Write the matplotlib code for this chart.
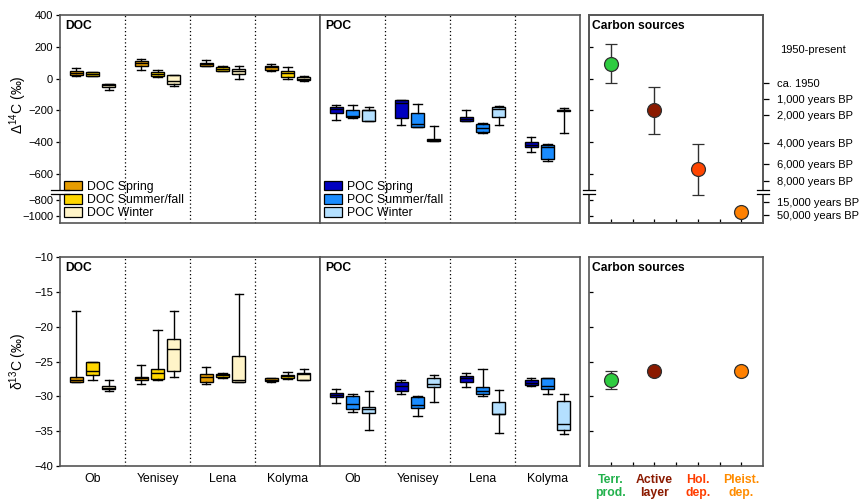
"""Radiocarbon and stable carbon isotopes of DOC/POC in four Arctic rivers."""

import matplotlib

matplotlib.use("Agg")
import matplotlib.pyplot as plt
import matplotlib.transforms as mtransforms
import numpy as np
from matplotlib.patches import Patch

plt.rcParams["font.family"] = ["Liberation Sans", "DejaVu Sans"]
plt.rcParams["mathtext.default"] = "regular"

rivers = ["Ob", "Yenisey", "Lena", "Kolyma"]
seasons = ["Spring", "Summer/fall", "Winter"]

# box stats per river: low whisker, q1, median, q3, high whisker
doc_d14c_spring = [[15, 25, 38, 50, 65], [55, 78, 97, 112, 125], [78, 80, 90, 100, 115], [45, 55, 70, 80, 92]]
doc_d14c_summer = [[17, 18, 30, 40, 42], [12, 14, 28, 44, 56], [45, 48, 62, 72, 80], [-5, 12, 35, 50, 70]]
doc_d14c_winter = [[-70, -52, -42, -35, -32], [-48, -32, -12, 20, 24], [0, 30, 50, 62, 80], [-15, -10, 0, 12, 18]]

poc_d14c_spring = [[-262, -217, -194, -180, -165], [-293, -250, -152, -137, -135],
                   [-268, -265, -252, -242, -200], [-460, -432, -415, -398, -367]]
poc_d14c_summer = [[-245, -240, -232, -200, -165], [-305, -303, -283, -214, -160],
                   [-340, -333, -310, -288, -278], [-518, -505, -430, -418, -412]]
poc_d14c_winter = [[-267, -265, -200, -195, -180], [-395, -393, -385, -377, -298],
                   [-290, -242, -190, -178, -175], [-340, -205, -200, -195, -185]]

doc_d13c_spring = [[-28.0, -27.9, -27.6, -27.2, -17.8], [-28.3, -27.6, -27.4, -27.2, -25.5],
                   [-28.2, -27.9, -27.2, -26.8, -25.8], [-27.9, -27.8, -27.6, -27.3, -27.3]]
doc_d13c_summer = [[-27.7, -27.0, -26.3, -25.0, -25.0], [-27.6, -27.5, -26.6, -26.1, -20.5],
                   [-27.4, -27.2, -27.0, -26.8, -26.6], [-27.5, -27.4, -27.1, -26.9, -26.5]]
doc_d13c_winter = [[-29.3, -29.0, -28.8, -28.5, -27.7], [-27.2, -26.4, -23.2, -21.7, -17.8],
                   [-27.9, -27.9, -27.6, -24.2, -15.3], [-27.6, -27.6, -26.8, -26.7, -26.1]]

poc_d13c_spring = [[-30.9, -30.1, -29.8, -29.5, -28.9], [-29.6, -29.2, -28.5, -27.9, -27.7],
                   [-28.7, -27.9, -27.4, -27.1, -26.7], [-28.5, -28.4, -28.1, -27.7, -27.3]]
poc_d13c_summer = [[-32.3, -31.8, -31.1, -29.9, -29.7], [-32.8, -31.7, -31.2, -30.1, -29.9],
                   [-29.9, -29.7, -29.2, -28.6, -26.1], [-29.6, -28.9, -28.5, -27.3, -27.3]]
poc_d13c_winter = [[-34.9, -32.4, -31.8, -31.5, -29.3], [-30.8, -28.7, -28.2, -27.3, -27.0],
                   [-35.2, -32.6, -32.5, -30.8, -29.1], [-35.4, -34.8, -34.0, -30.7, -29.6]]

sources = ["Terr.\nprod.", "Active\nlayer", "Hol.\ndep.", "Pleist.\ndep."]
source_d14c = [95, -200, -570, -955]
source_d14c_lo = [-30, -345, -737, -1005]
source_d14c_hi = [220, -55, -413, -925]
source_d13c = [-27.6, -26.4, np.nan, -26.3]
source_d13c_lo = [-28.9, -26.9, np.nan, -26.8]
source_d13c_hi = [-26.4, -25.9, np.nan, -25.8]

age_labels = ["ca. 1950", "1,000 years BP", "2,000 years BP", "4,000 years BP", "6,000 years BP",
              "8,000 years BP", "15,000 years BP", "50,000 years BP"]
age_d14c = [-25, -130, -230, -405, -535, -645, -825, -990]

doc_colors = ["#e59c00", "#ffd700", "#fff4c8"]
poc_colors = ["#0000c0", "#1a8cff", "#b4e0ff"]
source_colors = ["#2ecc40", "#8b1a00", "#ff4500", "#ff8000"]
label_colors = ["#22b14c", "#8b1a00", "#ff3d00", "#ff8c00"]
spine_color = "#555555"

BREAK = -725


def fwd(y):
    y = np.asarray(y, dtype=float)
    return np.where(y >= BREAK, y, BREAK + (y - BREAK) * 0.5)


def inv(t):
    t = np.asarray(t, dtype=float)
    return np.where(t >= BREAK, t, BREAK + (t - BREAK) * 2.0)


def style_spines(ax):
    for spine in ax.spines.values():
        spine.set_color(spine_color)
        spine.set_linewidth(1.2)


def draw_boxes(ax, series, colors):
    for k, (stats, color) in enumerate(zip(series, colors)):
        rows = [dict(whislo=s[0], q1=s[1], med=s[2], q3=s[3], whishi=s[4], fliers=[]) for s in stats]
        positions = [i + 0.5 + (k - 1) * 0.25 for i in range(len(rivers))]
        art = ax.bxp(rows, positions=positions, widths=0.2, capwidths=0.13, patch_artist=True,
                     manage_ticks=False,
                     boxprops=dict(edgecolor="black", linewidth=1.0),
                     medianprops=dict(color="black", linewidth=1.0),
                     whiskerprops=dict(color="black", linewidth=1.0),
                     capprops=dict(color="black", linewidth=1.0))
        for box in art["boxes"]:
            box.set_facecolor(color)
    for x in range(1, len(rivers)):
        ax.axvline(x, color="black", linestyle=(0, (1, 2)), linewidth=0.9)
    ax.set_xlim(0, len(rivers))


def break_marks(ax, xs):
    trans = mtransforms.blended_transform_factory(ax.transAxes, ax.transData)
    for x in xs:
        ax.plot([x - 0.035, x + 0.035], [-712, -712], color="white", lw=3.5, transform=trans,
                clip_on=False, zorder=5)
        for yb in (-700, -724):
            ax.plot([x - 0.035, x + 0.035], [yb, yb], color="black", lw=0.9, transform=trans,
                    clip_on=False, zorder=6)


fig = plt.figure(figsize=(8.64, 5.0), dpi=100)
W, H = 864.0, 500.0
top_y, top_h = 1 - 223 / H, 208 / H
bot_y, bot_h = 1 - 466 / H, 209 / H
ax_doc_t = fig.add_axes([60 / W, top_y, 260 / W, top_h])
ax_poc_t = fig.add_axes([320 / W, top_y, 260 / W, top_h])
ax_src_t = fig.add_axes([589 / W, top_y, 174 / W, top_h])
ax_doc_b = fig.add_axes([60 / W, bot_y, 260 / W, bot_h])
ax_poc_b = fig.add_axes([320 / W, bot_y, 260 / W, bot_h])
ax_src_b = fig.add_axes([589 / W, bot_y, 174 / W, bot_h])
ax_age = ax_src_t.twinx()

d14c_ticks = [400, 200, 0, -200, -400, -600, -800, -1000]
for ax in (ax_doc_t, ax_poc_t, ax_src_t, ax_age):
    ax.set_yscale("function", functions=(fwd, inv))
    ax.set_ylim(-1090, 400)
    ax.set_yticks(d14c_ticks)
for ax in (ax_doc_b, ax_poc_b, ax_src_b):
    ax.set_ylim(-40, -10)
    ax.set_yticks([-40, -35, -30, -25, -20, -15, -10])

draw_boxes(ax_doc_t, [doc_d14c_spring, doc_d14c_summer, doc_d14c_winter], doc_colors)
draw_boxes(ax_poc_t, [poc_d14c_spring, poc_d14c_summer, poc_d14c_winter], poc_colors)
draw_boxes(ax_doc_b, [doc_d13c_spring, doc_d13c_summer, doc_d13c_winter], doc_colors)
draw_boxes(ax_poc_b, [poc_d13c_spring, poc_d13c_summer, poc_d13c_winter], poc_colors)

for ax in (ax_doc_t, ax_poc_t, ax_doc_b, ax_poc_b, ax_src_t, ax_src_b, ax_age):
    style_spines(ax)
    ax.tick_params(labelsize=8, colors="black", width=0.9, length=3)
    ax.tick_params(axis="x", length=0)

for ax in (ax_doc_t, ax_doc_b):
    ax.tick_params(axis="y", direction="out", pad=2)
for ax in (ax_poc_t, ax_poc_b):
    ax.tick_params(axis="y", left=False, labelleft=False)
for ax in (ax_doc_t, ax_poc_t):
    ax.set_xticks([])
for ax in (ax_doc_b, ax_poc_b):
    ax.set_xticks([i + 0.5 for i in range(len(rivers))], labels=rivers, fontsize=8.8)
    ax.tick_params(axis="x", pad=5)

ax_doc_t.set_ylabel("Δ$^{14}$C (‰)", fontsize=10)
ax_doc_t.yaxis.set_label_coords(-0.12, 0.57)
ax_doc_b.set_ylabel("δ$^{13}$C (‰)", fontsize=10)
ax_doc_b.yaxis.set_label_coords(-0.12, 0.5)

for ax, name in ((ax_doc_t, "DOC"), (ax_poc_t, "POC"), (ax_doc_b, "DOC"), (ax_poc_b, "POC"),
                 (ax_src_t, "Carbon sources"), (ax_src_b, "Carbon sources")):
    ax.text(0.02, 0.975, name, transform=ax.transAxes, ha="left", va="top", fontsize=8.7,
            fontweight="bold")

for ax, colors, prefix in ((ax_doc_t, doc_colors, "DOC"), (ax_poc_t, poc_colors, "POC")):
    handles = [Patch(facecolor=c, edgecolor="black", linewidth=0.9, label=f"{prefix} {s}")
               for c, s in zip(colors, seasons)]
    ax.legend(handles=handles, loc="lower left", frameon=False, fontsize=8.8, handlelength=1.5,
              handleheight=0.85, labelspacing=0.1, handletextpad=0.4, borderaxespad=0.1,
              borderpad=0.2)

# carbon sources
xs = np.arange(1, len(sources) + 1)
for i in range(len(sources)):
    ax_src_t.errorbar(xs[i], source_d14c[i],
                      yerr=[[source_d14c[i] - source_d14c_lo[i]], [source_d14c_hi[i] - source_d14c[i]]],
                      fmt="o", color=source_colors[i], markersize=10, markeredgecolor="#303030",
                      markeredgewidth=0.9, ecolor="#303030", elinewidth=1.0, capsize=4, capthick=1.0)
    if not np.isnan(source_d13c[i]):
        ax_src_b.errorbar(xs[i], source_d13c[i],
                          yerr=[[source_d13c[i] - source_d13c_lo[i]], [source_d13c_hi[i] - source_d13c[i]]],
                          fmt="o", color=source_colors[i], markersize=10, markeredgecolor="#303030",
                          markeredgewidth=0.9, ecolor="#303030", elinewidth=1.0, capsize=4, capthick=1.0)

for ax in (ax_src_t, ax_src_b):
    ax.set_xlim(0.5, len(sources) + 0.5)
    ax.set_xticks(xs)
    ax.set_xticks(xs[:-1] + 0.5, minor=True)
    ax.tick_params(axis="x", which="both", direction="in", length=3, width=0.9)
    ax.tick_params(axis="y", direction="in", labelleft=False, length=3)

ax_src_t.set_yticks([200, 0, -200, -400, -600, -800, -1000])
ax_src_t.set_xticklabels([])
ax_src_b.set_yticks([-35, -30, -25, -20, -15])
ax_src_b.set_xticklabels(sources, fontsize=8.8, fontweight="bold", linespacing=1.05)
for lbl, c in zip(ax_src_b.get_xticklabels(), label_colors):
    lbl.set_color(c)
ax_src_b.tick_params(axis="x", pad=6)

ax_age.set_yticks(age_d14c, labels=age_labels)
ax_age.tick_params(axis="y", direction="out", length=4, width=0.9, labelsize=8, pad=6)
trans = mtransforms.blended_transform_factory(ax_src_t.transAxes, ax_src_t.transData)
ax_src_t.text(1.10, 180, "1950-present", transform=trans, ha="left", va="center", fontsize=8)

break_marks(ax_doc_t, [0.0])
break_marks(ax_age, [0.0, 1.0])

fig.savefig("out.png", dpi=100)
